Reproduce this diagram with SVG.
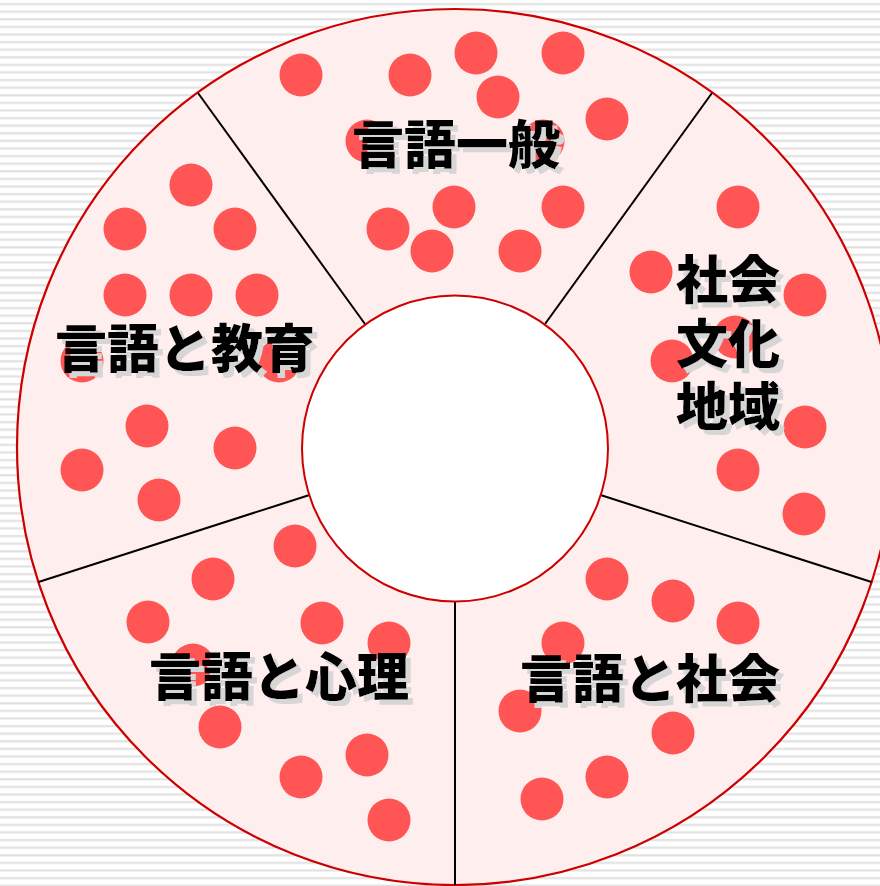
<svg xmlns="http://www.w3.org/2000/svg" width="880" height="886" viewBox="0 0 880 886">
<defs>
<pattern id="stripes" x="0" y="0" width="10" height="7.6" patternUnits="userSpaceOnUse">
<rect x="0" y="0" width="10" height="7.6" fill="#ffffff"/>
<rect x="0" y="3" width="10" height="2.2" fill="#e2e2e2"/>
</pattern>
<filter id="shadow" x="-10%" y="-10%" width="130%" height="130%">
<feOffset in="SourceAlpha" dx="5" dy="5" result="off"/>
<feFlood flood-color="#d6d6d6"/>
<feComposite in2="off" operator="in" result="sh"/>
<feMerge><feMergeNode in="sh"/><feMergeNode in="SourceGraphic"/></feMerge>
</filter>
</defs>
<style>
.dot{fill:#ff5555}
.lbl{font-family:"Noto Sans CJK JP","Noto Sans CJK SC",sans-serif;font-weight:900;font-size:52px;fill:#000;text-anchor:middle;dominant-baseline:central;filter:url(#shadow)}
.div{stroke:#000;stroke-width:2;fill:none}
</style>
<rect width="880" height="886" fill="url(#stripes)"/>
<g id="ring">
<circle cx="455" cy="447" r="438" fill="#ffeeee" stroke="#cc0000" stroke-width="2.2"/>
</g>
<g id="connectors">
<line class="div" x1="365" y1="324" x2="198" y2="93"/>
<line class="div" x1="545" y1="324" x2="712" y2="93"/>
<line class="div" x1="600.5" y1="495" x2="871.5" y2="582"/>
<line class="div" x1="309.5" y1="495" x2="38.5" y2="582"/>
<line class="div" x1="455" y1="601" x2="455" y2="885"/>
</g>
<g id="sector-general">
<circle class="dot" cx="301" cy="75" r="21.5"/>
<circle class="dot" cx="410" cy="75" r="21.5"/>
<circle class="dot" cx="476" cy="53" r="21.5"/>
<circle class="dot" cx="563" cy="53" r="21.5"/>
<circle class="dot" cx="498" cy="97" r="21.5"/>
<circle class="dot" cx="607" cy="119" r="21.5"/>
<circle class="dot" cx="367" cy="141" r="21.5"/>
<circle class="dot" cx="543" cy="141" r="21.5"/>
<circle class="dot" cx="454" cy="207" r="21.5"/>
<circle class="dot" cx="563" cy="207" r="21.5"/>
<circle class="dot" cx="388" cy="229" r="21.5"/>
<circle class="dot" cx="432" cy="251" r="21.5"/>
<circle class="dot" cx="520" cy="251" r="21.5"/>
<text class="lbl" x="456" y="141">言語一般</text>
</g>
<g id="sector-education">
<circle class="dot" cx="191" cy="185" r="21.5"/>
<circle class="dot" cx="125" cy="229" r="21.5"/>
<circle class="dot" cx="235" cy="229" r="21.5"/>
<circle class="dot" cx="125" cy="295" r="21.5"/>
<circle class="dot" cx="191" cy="295" r="21.5"/>
<circle class="dot" cx="257" cy="295" r="21.5"/>
<circle class="dot" cx="82" cy="361" r="21.5"/>
<circle class="dot" cx="279" cy="361" r="21.5"/>
<circle class="dot" cx="147" cy="426" r="21.5"/>
<circle class="dot" cx="235" cy="448" r="21.5"/>
<circle class="dot" cx="82" cy="470" r="21.5"/>
<circle class="dot" cx="159" cy="500" r="21.5"/>
<text class="lbl" x="185" y="345">言語と教育</text>
</g>
<g id="sector-culture">
<circle class="dot" cx="738" cy="207" r="21.5"/>
<circle class="dot" cx="651" cy="272" r="21.5"/>
<circle class="dot" cx="805" cy="295" r="21.5"/>
<circle class="dot" cx="735" cy="337" r="21.5"/>
<circle class="dot" cx="672" cy="361" r="21.5"/>
<circle class="dot" cx="805" cy="427" r="21.5"/>
<circle class="dot" cx="738" cy="470" r="21.5"/>
<circle class="dot" cx="804" cy="514" r="21.5"/>
<text class="lbl" x="728" y="276"><tspan x="728" y="276">社会</tspan><tspan x="728" y="340">文化</tspan><tspan x="728" y="403">地域</tspan></text>
</g>
<g id="sector-society">
<circle class="dot" cx="607" cy="579" r="21.5"/>
<circle class="dot" cx="673" cy="601" r="21.5"/>
<circle class="dot" cx="738" cy="623" r="21.5"/>
<circle class="dot" cx="563" cy="643" r="21.5"/>
<circle class="dot" cx="520" cy="711" r="21.5"/>
<circle class="dot" cx="673" cy="733" r="21.5"/>
<circle class="dot" cx="607" cy="777" r="21.5"/>
<circle class="dot" cx="542" cy="799" r="21.5"/>
<text class="lbl" x="650" y="675">言語と社会</text>
</g>
<g id="sector-psychology">
<circle class="dot" cx="295" cy="546" r="21.5"/>
<circle class="dot" cx="213" cy="579" r="21.5"/>
<circle class="dot" cx="148" cy="622" r="21.5"/>
<circle class="dot" cx="322" cy="623" r="21.5"/>
<circle class="dot" cx="389" cy="643" r="21.5"/>
<circle class="dot" cx="193" cy="665" r="21.5"/>
<circle class="dot" cx="220" cy="727" r="21.5"/>
<circle class="dot" cx="367" cy="755" r="21.5"/>
<circle class="dot" cx="301" cy="777" r="21.5"/>
<circle class="dot" cx="389" cy="820" r="21.5"/>
<text class="lbl" x="279" y="673">言語と心理</text>
</g>
<g id="center">
<circle cx="455" cy="448.5" r="153" fill="#ffffff" stroke="#cc0000" stroke-width="2"/>
</g>
</svg>
